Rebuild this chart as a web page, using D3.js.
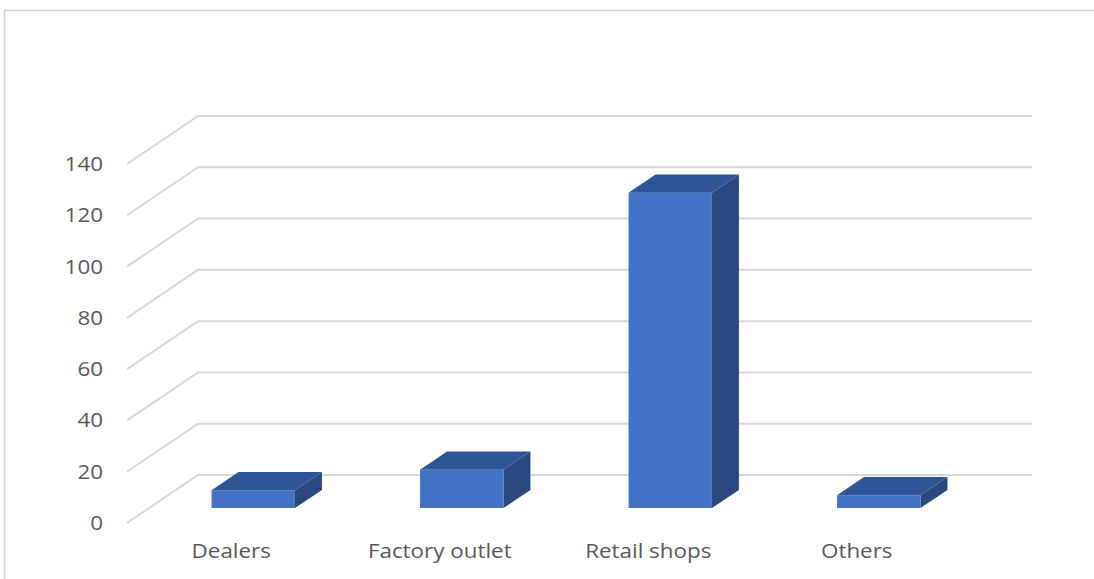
<!DOCTYPE html>
<html>
<head>
<meta charset="utf-8">
<script src="https://cdn.jsdelivr.net/npm/d3@7"></script>
<style>
  html, body { margin: 0; padding: 0; background: #fff; }
  svg { display: block; }
  text { font-family: "Open Sans", "Noto Sans", sans-serif; fill: #595959; }
</style>
</head>
<body>
<svg id="chart" width="1094" height="579"></svg>
<script>
// Purchase channel counts
const categories = ["Dealers", "Factory outlet", "Retail shops", "Others"];
const counts = [7, 15, 123, 5];
const yTicks = [0, 20, 40, 60, 80, 100, 120, 140];

const W = 1094, H = 579;
const svg = d3.select("#chart");
const fontSize = 20, stretch = 1.12; // labels are set slightly wide

// Chart frame
svg.append("path")
  .attr("d", `M4.5,${H} L4.5,10.5 L${W},10.5`)
  .attr("fill", "none")
  .attr("stroke", "#d4d4d4")
  .attr("stroke-width", 1.5);

// 3D projection: floor front-left corner, depth vector, back wall width
const origin = { x: 127, y: 523 };
const depth = { x: 71, y: -48 };
const wallWidth = 834;

const x = d3.scaleBand().domain(categories).range([0, wallWidth]).paddingInner(0).paddingOuter(0);
const y = d3.scaleLinear().domain([0, 140]).range([0, 359]);

const barFrac = 0.4;           // bar width as share of the band
const dFront = 0.31, dBack = 0.69; // bar depth range within the floor

// project (horizontal offset, value, depth fraction) to screen
function proj(px, v, f) {
  return [origin.x + px + depth.x * f, origin.y - y(v) + depth.y * f];
}

// Gridlines: left wall diagonal + back wall horizontal
const grid = svg.append("g").attr("class", "grid");
yTicks.forEach(t => {
  const p0 = proj(0, t, 0), p1 = proj(0, t, 1), p2 = proj(wallWidth, t, 1);
  grid.append("path")
    .attr("d", `M${p0[0]},${p0[1]} L${p1[0]},${p1[1]} L${p2[0]},${p2[1]}`)
    .attr("fill", "none")
    .attr("stroke", "#d9d9d9")
    .attr("stroke-width", 2);
});

// Value axis labels
svg.append("g").selectAll("text")
  .data(yTicks)
  .join("text")
  .attr("transform", d => `translate(103,${proj(0, d, 0)[1]}) scale(${stretch},1)`)
  .attr("dy", "0.35em")
  .attr("text-anchor", "end")
  .attr("font-size", fontSize)
  .text(d => d);

// Category labels on the floor front edge
svg.append("g").selectAll("text")
  .data(categories)
  .join("text")
  .attr("transform", d => `translate(${origin.x + x(d) + x.bandwidth() / 2},558) scale(${stretch},1)`)
  .attr("text-anchor", "middle")
  .attr("font-size", fontSize)
  .text(d => d);

// Bars as 3D boxes: side, front, top
const poly = pts => "M" + pts.map(p => p.join(",")).join("L") + "Z";
const bars = svg.append("g").selectAll("g")
  .data(categories.map((c, i) => ({ c, v: counts[i] })))
  .join("g");

bars.each(function (d) {
  const g = d3.select(this);
  const bw = x.bandwidth() * barFrac;
  const l = x(d.c) + (x.bandwidth() - bw) / 2, r = l + bw;
  const flb = proj(l, 0, dFront), frb = proj(r, 0, dFront);
  const flt = proj(l, d.v, dFront), frt = proj(r, d.v, dFront);
  const brb = proj(r, 0, dBack), brt = proj(r, d.v, dBack), blt = proj(l, d.v, dBack);
  g.append("path").attr("d", poly([frb, frt, brt, brb])).attr("fill", "#2a4a7f");
  g.append("path").attr("d", poly([flb, frb, frt, flt])).attr("fill", "#4472c4");
  g.append("path").attr("d", poly([flt, frt, brt, blt])).attr("fill", "#2f5597");
});
</script>
</body>
</html>
